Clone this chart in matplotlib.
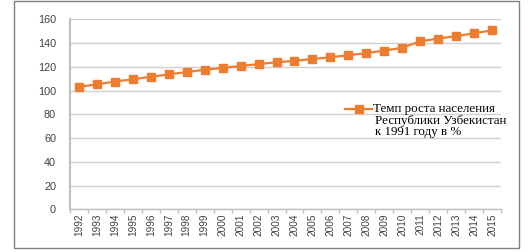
import matplotlib
matplotlib.use("Agg")
import matplotlib.pyplot as plt
from matplotlib.lines import Line2D
from matplotlib.patches import Rectangle

years = [str(y) for y in range(1992, 2016)]
values = [103.0, 105.3, 107.6, 109.5, 111.6, 113.6, 115.6, 117.6, 119.0, 120.7,
          122.3, 123.8, 125.0, 126.6, 128.0, 129.7, 131.6, 133.6, 136.0, 141.5,
          143.7, 145.9, 148.2, 150.7]
yticks = [0, 20, 40, 60, 80, 100, 120, 140, 160]
legend_lines = ["Темп роста населения", "Республики Узбекистан", "к 1991 году в %"]

orange = "#ED7D31"
grid_c = "#D0D0D0"
axis_c = "#BFBFBF"
lab_c = "#404040"

W, H = 531, 252
fig = plt.figure(figsize=(W / 100, H / 100), dpi=100)
ax = fig.add_axes([70 / W, 1 - 209.3 / H, (501 - 70) / W, (209.3 - 19.3) / H])

x = list(range(len(years)))
ax.plot(x, values, color=orange, lw=1.6, marker="s", ms=5.4, mec=orange, mfc=orange, zorder=3)

ax.set_xlim(-0.5, len(years) - 0.5)
ax.set_ylim(0, 160)
ax.set_yticks(yticks)
ax.set_yticklabels([str(v) for v in yticks], fontsize=7.8, family="Liberation Sans", color=lab_c)
ax.yaxis.grid(True, color=grid_c, lw=1.0)
ax.set_axisbelow(True)
ax.tick_params(axis="y", length=0, pad=10)

ax.set_xticks(x)
ax.set_xticklabels(years, rotation=90, fontsize=7.2, family="Liberation Sans", color=lab_c)
ax.set_xticks([i - 0.5 for i in range(len(years) + 1)], minor=True)
ax.tick_params(axis="x", which="major", length=0, pad=3)
ax.tick_params(axis="x", which="minor", length=3, color=axis_c, width=1)

for s in ["top", "right"]:
    ax.spines[s].set_visible(False)
ax.spines["left"].set_color(axis_c)
ax.spines["left"].set_linewidth(1.5)
ax.spines["bottom"].set_color(axis_c)
ax.spines["bottom"].set_linewidth(1.0)

# legend (manual)
ly = 1 - 109 / H
fig.add_artist(Line2D([345 / W, 372 / W], [ly, ly], color=orange, lw=1.6))
fig.add_artist(Line2D([359 / W], [ly], color=orange, marker="s", ms=5.4, lw=0))
ys = [109, 121, 132]
xs = [373, 375, 375]
for t, yy, xx in zip(legend_lines, ys, xs):
    fig.text(xx / W, 1 - yy / H, t, family="Liberation Serif", fontsize=9.4,
             va="center", ha="left", color="#000000")

# outer border
fig.add_artist(Rectangle((13.6 / W, 1 - 247.7 / H), (519 - 13.6) / W, (247.7 - 0.8) / H,
                         fill=False, ec="#808080", lw=1.0, transform=fig.transFigure))

fig.savefig("out.png", dpi=100, facecolor="white")
